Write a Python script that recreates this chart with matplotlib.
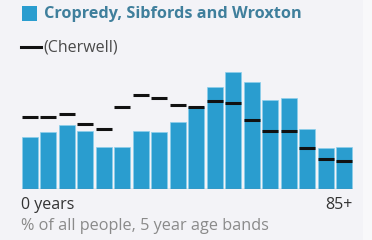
import numpy as np
import matplotlib
matplotlib.use('Agg')
from matplotlib import pyplot as plt
from matplotlib.patches import Rectangle

# % of all people by 5 year age band (0-4 ... 85+)
bands = ['0-4', '5-9', '10-14', '15-19', '20-24', '25-29', '30-34', '35-39',
         '40-44', '45-49', '50-54', '55-59', '60-64', '65-69', '70-74',
         '75-79', '80-84', '85+']
ward = [4.24, 4.60, 5.19, 4.73, 3.44, 3.44, 4.73, 4.60, 5.45,
        6.66, 8.27, 9.44, 8.63, 7.20, 7.34, 4.84, 3.31, 3.44]
cherwell = [5.81, 5.81, 6.07, 5.24, 4.86, 6.66, 7.60, 7.34, 6.80,
            6.66, 7.10, 6.98, 5.59, 4.73, 4.73, 3.33, 2.42, 2.28]

ward_name = 'Cropredy, Sibfords and Wroxton'
area_name = '(Cherwell)'
left_label = '0 years'
right_label = '85+'
note = '% of all people, 5 year age bands'

bg = '#f3f3f7'
bar_col = '#2a9dcf'
fam = ['Open Sans', 'DejaVu Sans']

fig = plt.figure(figsize=(3.72, 2.4), dpi=100)
fig.patch.set_facecolor(bg)
# lighter strip at the right edge
fig.patches.append(Rectangle((363 / 372, 0), 9 / 372, 1, transform=fig.transFigure,
                             facecolor='#f8f8fa', edgecolor='none', zorder=0))

W, H = 372, 240
ax = fig.add_axes([20.5 / W, (H - 189.3) / H, 332.8 / W, 129.3 / H])
ax.set_facecolor('none')
x = np.arange(len(bands))
w = 0.87
ax.bar(x, ward, width=w, color=bar_col, edgecolor='#8ccfec', linewidth=0.5, zorder=2)
ax.hlines(cherwell, x - w / 2, x + w / 2, colors='#111111', linewidth=2.2, zorder=3)
ax.axhline(0, xmin=0.005, xmax=0.995, color='#6b8799', linewidth=0.9, zorder=4)
ax.set_xlim(-0.5, len(bands) - 0.5)
ax.set_ylim(0, 129.3 / 12.4)
ax.axis('off')

# legend
fig.patches.append(Rectangle((22 / W, (H - 21) / H), 14.5 / W, 15 / H,
                             transform=fig.transFigure, facecolor=bar_col,
                             edgecolor='none'))
fig.text(44 / W, (H - 13.5) / H, ward_name, fontsize=11.7, fontweight='bold',
         color='#3f7f9c', family=fam, va='center')
fig.lines.append(plt.Line2D([21 / W, 41 / W], [(H - 47) / H] * 2,
                            transform=fig.transFigure, color='#111111', linewidth=2.2))
fig.text(43 / W, (H - 47.5) / H, area_name, fontsize=11.5, color='#4a4a4a',
         family=fam, va='center')

fig.text(21 / W, (H - 205) / H, left_label, fontsize=11.5, color='#333333',
         family=fam, va='center')
fig.text(353 / W, (H - 205) / H, right_label, fontsize=11.5, color='#333333',
         family=fam, va='center', ha='right')
fig.text(21 / W, (H - 226) / H, note, fontsize=11.7, color='#8a8a8a',
         family=fam, va='center')

fig.savefig('out.png', dpi=100, facecolor=bg)
